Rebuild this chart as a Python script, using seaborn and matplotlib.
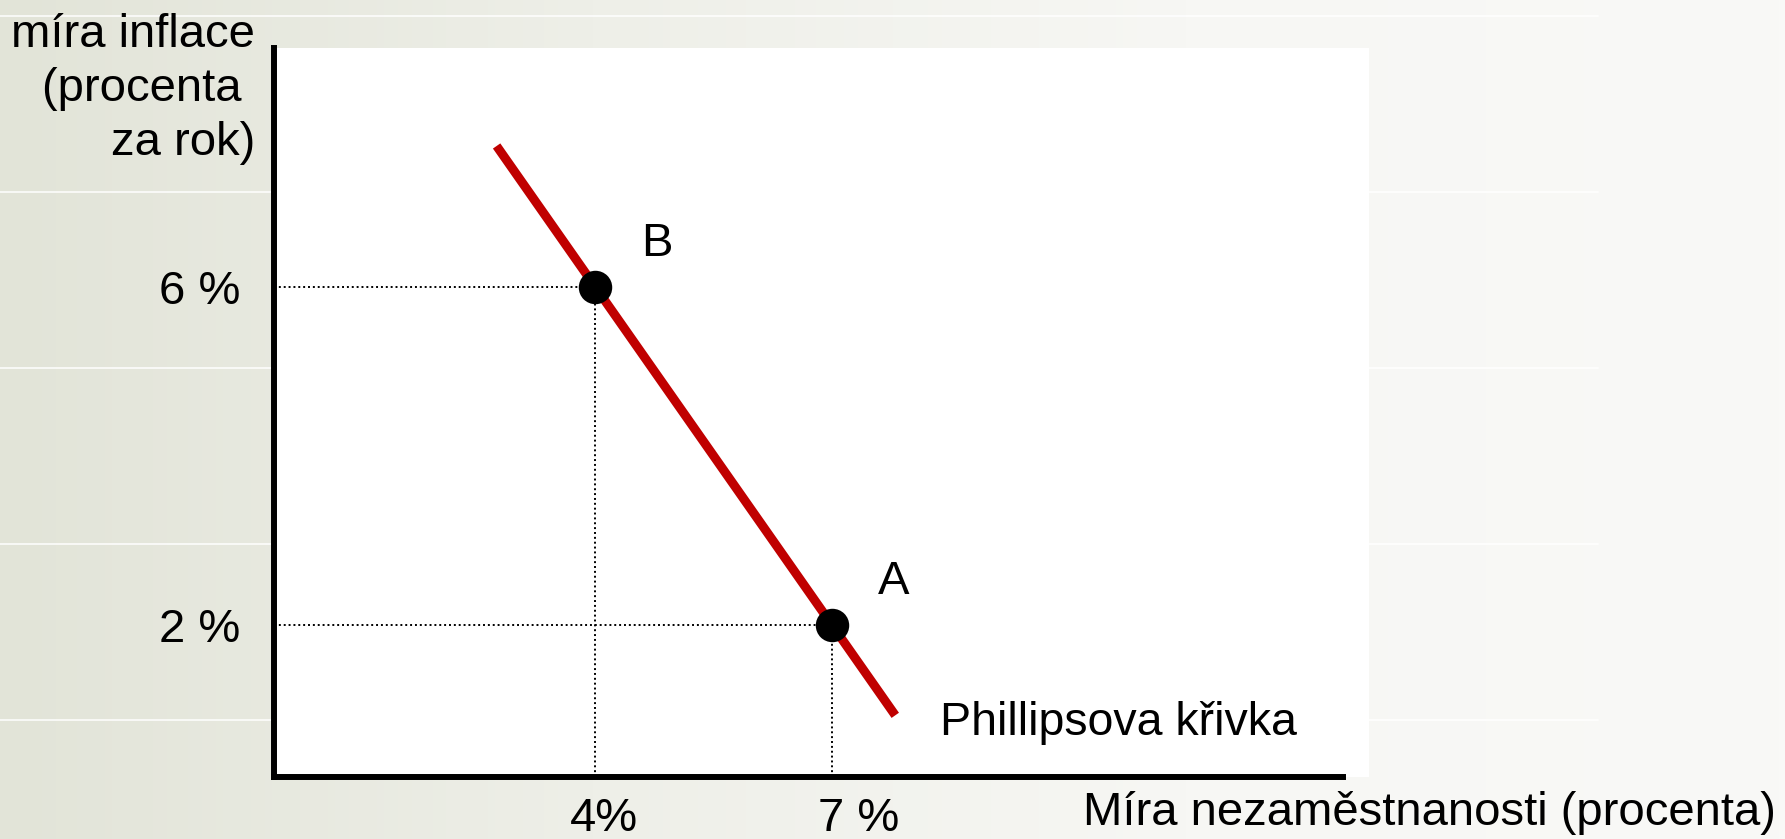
# Phillips curve slide chart (seaborn + matplotlib)

import numpy as np
import matplotlib
matplotlib.use("Agg")
import matplotlib.pyplot as plt
import matplotlib.transforms as mtransforms
from matplotlib.colors import LinearSegmentedColormap
import seaborn as sns

sns.set_theme(style="white")
plt.rcParams['font.family'] = ['Liberation Sans', 'DejaVu Sans']

# ---- data ----
curve_x = [2.75, 7.8]
curve_y = [7.67, 0.93]

point_names = ['A', 'B']
point_x = [7, 4]
point_y = [2, 6]

xtick_labels = ['7 %', '4%']
ytick_labels = ['2 %', '6 %']

curve_name = 'Phillipsova křivka'
xlabel = 'Míra nezaměstnanosti (procenta)'
ylabel = 'míra inflace\n(procenta \nza rok)'

# ---- figure + slide background ----
fig = plt.figure(figsize=(17.85, 8.39), dpi=100)

bg = fig.add_axes([0, 0, 1, 1])
bg.set_zorder(0)
cmap = LinearSegmentedColormap.from_list('slide', ['#e2e4d8', '#eeefe8', '#f7f7f4', '#f9f9f7'])
bg.imshow(np.linspace(0, 1, 256).reshape(1, -1), cmap=cmap, aspect='auto', extent=[0, 1, 0, 1])
for yy in [16, 192, 368, 544, 720]:
    bg.axhline(1 - yy / 839, xmax=0.895, color='white', lw=1.2, alpha=0.9)
bg.set_xlim(0, 1)
bg.set_ylim(0, 1)
bg.axis('off')

# ---- main axes ----
ax = fig.add_axes([0.1535, 0.0739, 0.6134, 0.8689])
ax.set_zorder(1)
ax.set_facecolor('white')
ax.set_xlim(-0.07, 13.8)
ax.set_ylim(0.2, 8.83)

sns.lineplot(x=curve_x, y=curve_y, color='#c00000', lw=6.5, ax=ax, zorder=3,
             solid_capstyle='butt')

# dotted guide lines
ax.hlines(point_y, xmin=ax.get_xlim()[0], xmax=point_x, colors='black',
          linestyles=(0, (1, 1.5)), lw=1.4, zorder=2)
ax.vlines(point_x, ymin=ax.get_ylim()[0], ymax=point_y, colors='black',
          linestyles=(0, (1, 1.5)), lw=1.4, zorder=2)

sns.scatterplot(x=point_x, y=point_y, s=580, color='black', edgecolor='black',
                linewidth=0, zorder=5, ax=ax, legend=False)

for name, px, py in zip(point_names, point_x, point_y):
    ax.annotate(name, (px, py), xytext=(44, 31), textcoords='offset points',
                ha='center', va='center', fontsize=34, color='black')

# line label
ax.text(8.37, 0.84, curve_name, ha='left', va='center', fontsize=33.5, color='black')

# y ticks
ax.set_yticks(point_y, ytick_labels)
ax.tick_params(axis='y', length=0, pad=24, labelsize=34, labelcolor='black')

# x ticks drawn as text (slightly shifted like the slide)
ax.set_xticks([])
x_shift = {'7 %': 19, '4%': 6}
for lab, px in zip(xtick_labels, point_x):
    tr = mtransforms.blended_transform_factory(ax.transData, ax.transAxes)
    tr = mtransforms.offset_copy(tr, fig=fig, x=x_shift[lab], y=-30, units='points')
    ax.text(px, 0, lab, transform=tr, ha='center', va='center', fontsize=34,
            color='black', clip_on=False)

# spines
for side in ['top', 'right']:
    ax.spines[side].set_visible(False)
for side in ['left', 'bottom']:
    ax.spines[side].set_color('black')
    ax.spines[side].set_linewidth(4.3)
ax.spines['bottom'].set_bounds(-0.07, 13.47)
ax.grid(False)

# axis titles
fig.text(1776 / 1785, 1 - 813 / 839, xlabel, ha='right', va='center', fontsize=34, color='black')
fig.text(255 / 1785, 1 - 13 / 839, ylabel, ha='right', va='top', multialignment='right',
         fontsize=34, color='black', linespacing=1.3)

fig.savefig('out.png', dpi=100)
